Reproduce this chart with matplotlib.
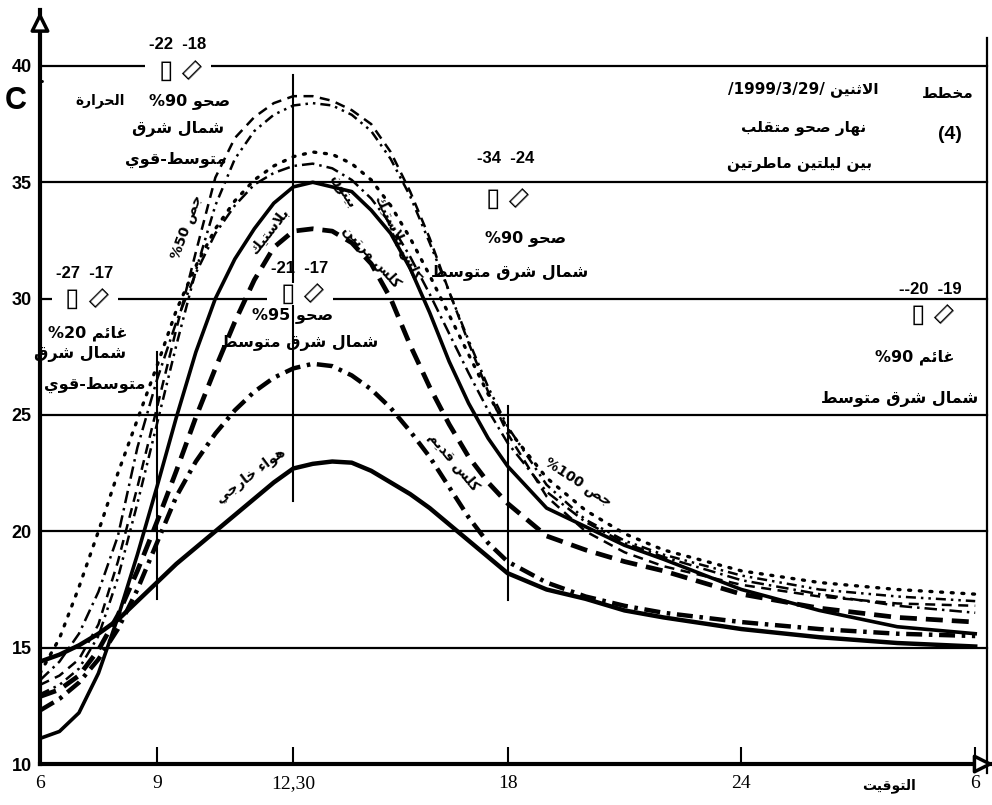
import matplotlib.pyplot as plt
import numpy as np

# ---------------- data ----------------
hours = [6, 6.5, 7, 7.5, 8, 8.5, 9, 9.5, 10, 10.5, 11, 11.5, 12, 12.5, 13, 13.5,
         14, 14.5, 15, 15.5, 16, 16.5, 17, 17.5, 18, 19, 20, 21, 22, 24, 26, 28, 30]

outside_air = [14.4, 14.7, 15.1, 15.6, 16.2, 17.0, 17.8, 18.6, 19.3, 20.0, 20.7, 21.4, 22.1, 22.7, 22.9, 23.0,
               22.95, 22.6, 22.1, 21.6, 21.0, 20.3, 19.6, 18.9, 18.2, 17.5, 17.1, 16.6, 16.3, 15.8, 15.45, 15.2, 15.05]
old_lime = [12.3, 12.8, 13.5, 14.5, 15.8, 17.5, 19.5, 21.5, 23.0, 24.2, 25.2, 26.0, 26.6, 27.0, 27.2, 27.1,
            26.7, 26.1, 25.3, 24.3, 23.2, 21.9, 20.6, 19.5, 18.7, 17.8, 17.2, 16.8, 16.5, 16.1, 15.8, 15.6, 15.5]
plastic = [11.1, 11.4, 12.2, 13.9, 16.3, 19.0, 21.9, 24.9, 27.7, 30.0, 31.7, 33.0, 34.1, 34.8, 35.0, 34.8,
           34.6, 33.8, 32.8, 31.3, 29.4, 27.3, 25.5, 24.0, 22.8, 21.0, 20.2, 19.4, 18.8, 17.5, 16.6, 15.9, 15.6]
lime_twice = [12.9, 13.2, 13.8, 14.9, 16.4, 18.3, 20.4, 22.6, 24.9, 27.0, 29.0, 30.8, 32.2, 32.9, 33.0, 32.9,
              32.4, 31.5, 30.0, 28.0, 26.2, 24.6, 23.2, 22.1, 21.2, 19.8, 19.2, 18.7, 18.3, 17.3, 16.7, 16.3, 16.1]
concrete = [13.6, 14.4, 15.6, 17.4, 19.8, 23.6, 26.5, 29.0, 31.1, 32.8, 34.0, 34.9, 35.4, 35.7, 35.8, 35.6,
            35.1, 34.3, 33.2, 31.8, 30.2, 28.5, 26.8, 25.2, 23.8, 21.7, 20.4, 19.5, 18.9, 17.9, 17.3, 16.8, 16.5]
gypsum_100 = [13.9, 15.4, 17.6, 20.0, 22.5, 24.8, 27.1, 29.5, 31.4, 33.0, 34.2, 35.1, 35.7, 36.1, 36.3, 36.2,
              35.8, 35.1, 34.0, 32.6, 31.0, 29.3, 27.6, 25.9, 24.4, 22.3, 20.9, 19.9, 19.2, 18.3, 17.8, 17.5, 17.3]
lime_plastic = [13.0, 13.4, 14.1, 15.5, 18.0, 21.2, 24.6, 28.0, 31.2, 34.0, 36.0, 37.2, 37.9, 38.3, 38.4, 38.3,
                37.9, 37.2, 36.0, 34.4, 32.4, 30.3, 28.2, 26.2, 24.5, 22.0, 20.5, 19.6, 19.0, 18.1, 17.5, 17.2, 17.0]
gypsum_50 = [13.4, 13.8, 14.5, 16.0, 18.7, 21.9, 25.3, 28.7, 32.0, 35.2, 36.9, 37.8, 38.4, 38.7, 38.7, 38.5,
             38.1, 37.5, 36.3, 34.6, 32.6, 30.3, 28.1, 26.0, 24.2, 21.5, 20.0, 19.1, 18.5, 17.7, 17.2, 16.9, 16.8]

grid_levels = [15, 20, 25, 30, 35, 40]
ytick_vals = [10, 15, 20, 25, 30, 35, 40]
xtick_vals = [6, 9, 12.5, 18, 24, 30]
xtick_labels = ['6', '9', '12,30', '18', '24', '6']

# ---------------- tiny arabic shaper (presentation forms, visual order) ----------------
FORMS = {
    'ا': (0xFE8D, 0xFE8E), 'أ': (0xFE83, 0xFE84), 'إ': (0xFE87, 0xFE88), 'آ': (0xFE81, 0xFE82),
    'ب': (0xFE8F, 0xFE90, 0xFE91, 0xFE92), 'ت': (0xFE95, 0xFE96, 0xFE97, 0xFE98),
    'ث': (0xFE99, 0xFE9A, 0xFE9B, 0xFE9C), 'ج': (0xFE9D, 0xFE9E, 0xFE9F, 0xFEA0),
    'ح': (0xFEA1, 0xFEA2, 0xFEA3, 0xFEA4), 'خ': (0xFEA5, 0xFEA6, 0xFEA7, 0xFEA8),
    'د': (0xFEA9, 0xFEAA), 'ذ': (0xFEAB, 0xFEAC), 'ر': (0xFEAD, 0xFEAE), 'ز': (0xFEAF, 0xFEB0),
    'س': (0xFEB1, 0xFEB2, 0xFEB3, 0xFEB4), 'ش': (0xFEB5, 0xFEB6, 0xFEB7, 0xFEB8),
    'ص': (0xFEB9, 0xFEBA, 0xFEBB, 0xFEBC), 'ض': (0xFEBD, 0xFEBE, 0xFEBF, 0xFEC0),
    'ط': (0xFEC1, 0xFEC2, 0xFEC3, 0xFEC4), 'ظ': (0xFEC5, 0xFEC6, 0xFEC7, 0xFEC8),
    'ع': (0xFEC9, 0xFECA, 0xFECB, 0xFECC), 'غ': (0xFECD, 0xFECE, 0xFECF, 0xFED0),
    'ف': (0xFED1, 0xFED2, 0xFED3, 0xFED4), 'ق': (0xFED5, 0xFED6, 0xFED7, 0xFED8),
    'ك': (0xFED9, 0xFEDA, 0xFEDB, 0xFEDC), 'ل': (0xFEDD, 0xFEDE, 0xFEDF, 0xFEE0),
    'م': (0xFEE1, 0xFEE2, 0xFEE3, 0xFEE4), 'ن': (0xFEE5, 0xFEE6, 0xFEE7, 0xFEE8),
    'ه': (0xFEE9, 0xFEEA, 0xFEEB, 0xFEEC), 'و': (0xFEED, 0xFEEE), 'ة': (0xFE93, 0xFE94),
    'ى': (0xFEEF, 0xFEF0), 'ي': (0xFEF1, 0xFEF2, 0xFEF3, 0xFEF4),
    'ئ': (0xFE89, 0xFE8A, 0xFE8B, 0xFE8C), 'ؤ': (0xFE85, 0xFE86), 'ء': (0xFE80,),
}
LAM_ALEF = {'ا': (0xFEFB, 0xFEFC), 'أ': (0xFEF7, 0xFEF8), 'إ': (0xFEF9, 0xFEFA), 'آ': (0xFEF5, 0xFEF6)}


def shape_word(w):
    out = []
    i = 0
    n = len(w)
    while i < n:
        c = w[i]
        if c not in FORMS:
            out.append(c)
            i += 1
            continue
        prev = i > 0 and w[i - 1] in FORMS and len(FORMS[w[i - 1]]) == 4
        if c == 'ل' and i + 1 < n and w[i + 1] in LAM_ALEF:
            f = LAM_ALEF[w[i + 1]]
            out.append(chr(f[1] if prev else f[0]))
            i += 2
            continue
        f = FORMS[c]
        nxt = len(f) == 4 and i + 1 < n and w[i + 1] in FORMS
        if prev and nxt:
            g = f[3]
        elif prev:
            g = f[1] if len(f) > 1 else f[0]
        elif nxt:
            g = f[2]
        else:
            g = f[0]
        out.append(chr(g))
        i += 1
    return ''.join(reversed(out))


def ar(text):
    # words split on spaces and hyphens, laid out right to left
    toks = text.replace('-', ' - ').split(' ')
    toks = [shape_word(t) if any(ch in FORMS for ch in t) else t for t in toks]
    return ' '.join(reversed(toks)).replace(' - ', '-')


# ---------------- figure ----------------
fig = plt.figure(figsize=(9.92, 8.05), dpi=100)
ax = fig.add_axes([0.0403, 0.0509, 0.9577, 0.9366])
ax.set_xlim(6, 30.38)
ax.set_ylim(10, 42.4)

for spine in ['top', 'right']:
    ax.spines[spine].set_visible(False)
ax.spines['left'].set_linewidth(3)
ax.spines['bottom'].set_linewidth(3)

# horizontal rules
for lv in grid_levels:
    ax.plot([6, 30.3], [lv, lv], color='black', lw=1.6, zorder=1)
# right border
ax.plot([30.3, 30.3], [9.6, 41.2], color='black', lw=1.6, clip_on=False, zorder=1)

# time markers
ax.plot([9, 9], [17.1, 27.7], color='black', lw=1.5, zorder=1)
ax.plot([12.5, 12.5], [21.3, 39.6], color='black', lw=1.5, zorder=1)
ax.plot([18, 18], [17.05, 25.4], color='black', lw=1.5, zorder=1)

# axis arrows
ax.annotate('', xy=(6, 42.45), xytext=(6, 40.5), annotation_clip=False,
            arrowprops=dict(arrowstyle='-|>', fc='white', ec='black', lw=2.5, mutation_scale=28))
ax.annotate('', xy=(30.55, 10), xytext=(29.5, 10), annotation_clip=False,
            arrowprops=dict(arrowstyle='-|>', fc='white', ec='black', lw=2.5, mutation_scale=28))

# curves
ax.plot(hours, gypsum_50, color='black', lw=1.8, linestyle=(0, (4, 2.6)), zorder=3)
ax.plot(hours, lime_plastic, color='black', lw=1.8, linestyle=(0, (4, 2, 1, 2, 1, 2)), zorder=3)
ax.plot(hours, gypsum_100, color='black', lw=2.4, linestyle=(0, (0.6, 2.6)), dash_capstyle='round', zorder=3)
ax.plot(hours, concrete, color='black', lw=1.8, linestyle=(0, (5, 2, 1, 2)), zorder=3)
ax.plot(hours, plastic, color='black', lw=2.6, zorder=3)
ax.plot(hours, lime_twice, color='black', lw=3.4, linestyle=(0, (3.6, 1.9)), zorder=3)
ax.plot(hours, old_lime, color='black', lw=3.2, linestyle=(0, (3.6, 1.5, 0.8, 1.5)), zorder=3)
ax.plot(hours, outside_air, color='black', lw=3.2, zorder=3)

# ticks
ax.set_yticks(ytick_vals)
ax.set_yticklabels([str(v) for v in ytick_vals], fontsize=13, fontweight='bold',
                   family=['Liberation Sans', 'DejaVu Sans'])
ax.tick_params(axis='y', length=0, pad=6)
ax.set_xticks(xtick_vals)
ax.set_xticklabels(xtick_labels, fontsize=14, family=['Liberation Serif', 'DejaVu Serif'])
ax.tick_params(axis='x', direction='in', length=12, width=1.5, pad=8)

AF = ['DejaVu Sans']
kw = dict(ha='center', va='center', family=AF, fontweight='bold', zorder=5)

# temperature axis label
fig.text(0.016, 0.875, 'C', fontsize=22, fontweight='bold', family=['Liberation Sans', 'DejaVu Sans'],
         ha='center', va='center')
ax.text(6.05, 39.3, '•', fontsize=8, ha='center', va='center')
ax.text(7.55, 38.5, ar('الحرارة'), fontsize=10, **kw)
ax.text(27.8, 9.05, ar('التوقيت'), fontsize=10, clip_on=False, **kw)


def weather_block(tx, ty, nums, sym_y, lines, gap=False):
    ax.text(tx, ty, nums, fontsize=12, ha='center', va='center', fontweight='bold',
            family=['Liberation Sans', 'DejaVu Sans'], zorder=5)
    if gap:
        # the ruled line is broken where the wind signs sit
        ax.text(tx, sym_y, '            ', fontsize=12, ha='center', va='center', zorder=4,
                bbox=dict(boxstyle='square,pad=0.1', fc='white', ec='none'))
    ax.text(tx - 0.32, sym_y, '▯', fontsize=19, ha='center', va='center', zorder=5,
            family=['DejaVu Sans'])
    ax.text(tx + 0.32, sym_y, '▯', fontsize=18, rotation=-45, ha='center', va='center', zorder=5,
            family=['DejaVu Sans'])
    for (lx, ly, s) in lines:
        ax.text(lx, ly, s, fontsize=11.5, **kw)


weather_block(9.54, 40.9, '-22  -18', 39.8,
              [(9.85, 38.5, ar('صحو %90')), (9.54, 37.3, ar('شمال شرق')), (9.47, 35.96, ar('متوسط-قوي'))],
              gap=True)
weather_block(7.15, 31.1, '-27  -17', 30.0,
              [(7.23, 28.5, ar('غائم %20')), (7.03, 27.6, ar('شمال شرق')), (7.41, 26.3, ar('متوسط-قوي'))],
              gap=True)
weather_block(12.67, 31.3, '-21  -17', 30.2,
              [(12.47, 29.3, ar('صحو %95')), (12.67, 28.1, ar('شمال شرق متوسط'))], gap=True)
weather_block(17.94, 36.0, '-34  -24', 34.3,
              [(18.45, 32.6, ar('صحو %90')), (18.06, 31.1, ar('شمال شرق متوسط'))])
weather_block(28.84, 30.4, '--20  -19', 29.3,
              [(28.46, 27.5, ar('غائم %90')), (28.07, 25.7, ar('شمال شرق متوسط'))])

# title box, top right
ax.text(25.6, 39.0, ar('الاثنين /1999/3/29/'), fontsize=11, **kw)
ax.text(25.6, 37.3, ar('نهار صحو متقلب'), fontsize=11, **kw)
ax.text(25.5, 35.8, ar('بين ليلتين ماطرتين'), fontsize=11, **kw)
ax.text(29.3, 38.8, ar('مخطط'), fontsize=11, **kw)
ax.text(29.36, 37.07, '(4)', fontsize=14, ha='center', va='center', fontweight='bold',
        family=['Liberation Sans', 'DejaVu Sans'])

# curve labels
ax.text(9.77, 33.08, ar('جص %50'), fontsize=10, rotation=70, **kw)
ax.text(11.9, 32.9, ar('بلاستيك'), fontsize=10, rotation=52, **kw)
ax.text(13.75, 34.6, ar('بيتون'), fontsize=10, rotation=-57, **kw)
ax.text(14.52, 31.8, ar('كلس مرتين'), fontsize=10, rotation=-48, **kw)
ax.text(15.19, 32.6, ar('كلس بلاستيك'), fontsize=10, rotation=-65, **kw)
ax.text(11.4, 22.4, ar('هواء خارجي'), fontsize=10, rotation=37, **kw)
ax.text(16.6, 23.0, ar('كلس قديم'), fontsize=10, rotation=-50, **kw)
ax.text(19.8, 22.1, ar('جص %100'), fontsize=10, rotation=-33, **kw)

fig.savefig('out.png', dpi=100, facecolor='white')
